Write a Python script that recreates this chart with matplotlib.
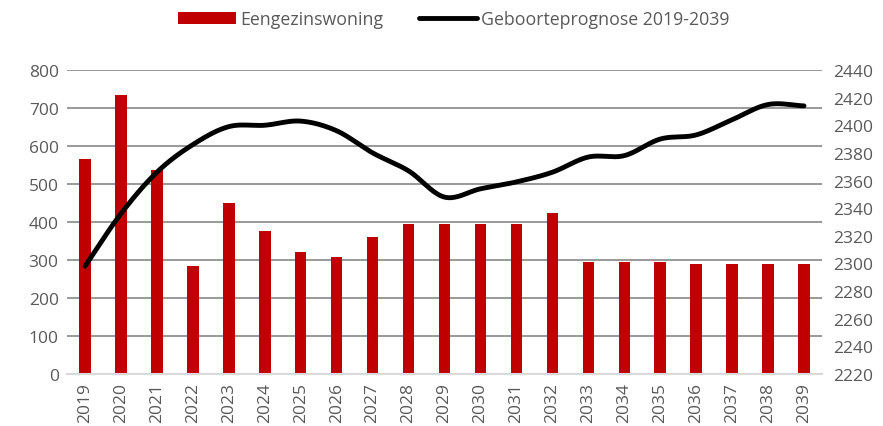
import matplotlib.pyplot as plt
import numpy as np

plt.rcParams['font.family'] = ['Open Sans', 'DejaVu Sans']

## DATA
years = [str(y) for y in range(2019, 2040)]
eengezins = [565, 735, 537, 283, 450, 375, 322, 308, 361, 395, 395,
             395, 395, 423, 295, 295, 295, 289, 289, 289, 289]
geboorte = [2298, 2336, 2366, 2386, 2399, 2400, 2403, 2396, 2380, 2367, 2348,
            2354, 2359, 2366, 2377, 2378, 2390, 2393, 2404, 2415, 2414]


## smooth line like the spreadsheet (catmull-rom through the points)
def smooth(y, n=20):
    y = np.asarray(y, dtype=float)
    p = np.concatenate(([2*y[0]-y[1]], y, [2*y[-1]-y[-2]]))
    xs, ys = [], []
    for i in range(len(y)-1):
        p0, p1, p2, p3 = p[i], p[i+1], p[i+2], p[i+3]
        t = np.linspace(0, 1, n, endpoint=False)
        v = 0.5*((2*p1) + (-p0+p2)*t + (2*p0-5*p1+4*p2-p3)*t**2 + (-p0+3*p1-3*p2+p3)*t**3)
        xs.append(i + t)
        ys.append(v)
    xs.append([len(y)-1])
    ys.append([y[-1]])
    return np.concatenate(xs), np.concatenate(ys)


grey = '#595959'
fig = plt.figure(figsize=(8.83, 4.27), dpi=100)
ax = fig.add_axes([0.0759, 0.1218, 0.855, 0.712])
x = np.arange(len(years))

bars = ax.bar(x, eengezins, width=0.32, color='#c00000', zorder=2, label='Eengezinswoning')
ax.set_ylim(0, 800)
ax.set_yticks(range(0, 801, 100))
ax.set_xlim(-0.5, len(years)-0.5)
ax.set_xticks(x)
ax.set_xticklabels(years, rotation=90)
ax.yaxis.grid(True, color='#999999', linewidth=1.4, zorder=0)
ax.set_axisbelow(True)
for s in ['top', 'right', 'left']:
    ax.spines[s].set_visible(False)
ax.spines['bottom'].set_color('#d9d9d9')
ax.spines['bottom'].set_linewidth(1.5)
ax.tick_params(length=0, labelsize=12.5, colors=grey, pad=6)

ax2 = ax.twinx()
sx, sy = smooth(geboorte)
line, = ax2.plot(sx, sy, color='black', linewidth=3.5, solid_capstyle='round',
                 label='Geboorteprognose 2019-2039', zorder=3)
ax2.set_ylim(2220, 2440)
ax2.set_yticks(range(2220, 2441, 20))
for s in ax2.spines.values():
    s.set_visible(False)
ax2.tick_params(length=0, labelsize=12.5, colors=grey, pad=8)

fig.legend([bars, line], ['Eengezinswoning', 'Geboorteprognose 2019-2039'],
           loc='center', bbox_to_anchor=(0.5136, 0.953), ncol=2, frameon=False,
           fontsize=12.8, labelcolor=grey, handlelength=3.3, handleheight=0.7,
           handletextpad=0.2, columnspacing=2.0)

fig.savefig('out.png', dpi=100)
